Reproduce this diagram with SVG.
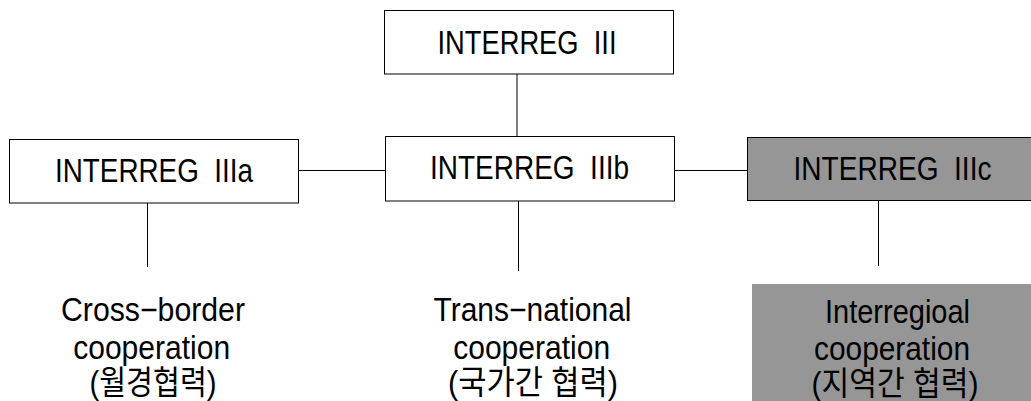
<svg xmlns="http://www.w3.org/2000/svg" width="1031" height="401" viewBox="0 0 1031 401">
<style>
.box{fill:#fff;stroke:#000;stroke-width:1}
.gray{fill:#969696;stroke:#000;stroke-width:1}
.grayf{fill:#969696;stroke:none}
.t{font-family:"Liberation Sans","Noto Sans CJK KR",sans-serif;font-size:33px;fill:#000;text-anchor:middle;white-space:pre}
.k{font-family:"Liberation Sans","Noto Sans CJK KR",sans-serif;font-size:33px;fill:#000;text-anchor:middle}
.c{stroke:#000;stroke-width:1;fill:none}
</style>
<rect width="1031" height="401" fill="#fff"/>
<g id="connectors">
<line class="c" x1="517" y1="74" x2="517" y2="136"/>
<line class="c" x1="299" y1="170.5" x2="385" y2="170.5"/>
<line class="c" x1="675" y1="170.5" x2="747" y2="170.5"/>
<line class="c" x1="147.5" y1="203" x2="147.5" y2="267"/>
<line class="c" x1="518.5" y1="201" x2="518.5" y2="271"/>
<line class="c" x1="878.5" y1="201" x2="878.5" y2="266"/>
</g>
<g id="n-iii">
<rect class="box" x="384.5" y="10.5" width="289" height="63.5"/>
<text class="t" x="527" y="54" textLength="179" lengthAdjust="spacingAndGlyphs">INTERREG  III</text>
</g>
<g id="n-iiia">
<rect class="box" x="9.5" y="139.5" width="289" height="63.5"/>
<text class="t" x="154" y="181.5" textLength="198" lengthAdjust="spacingAndGlyphs">INTERREG  IIIa</text>
</g>
<g id="n-iiib">
<rect class="box" x="385.5" y="136.5" width="289" height="64.5"/>
<text class="t" x="529.5" y="179.3" textLength="199" lengthAdjust="spacingAndGlyphs">INTERREG  IIIb</text>
</g>
<g id="n-iiic">
<rect class="gray" x="747.5" y="137.5" width="290" height="63"/>
<text class="t" x="892.5" y="180" textLength="198" lengthAdjust="spacingAndGlyphs">INTERREG  IIIc</text>
</g>
<g id="n-cross">
<text class="t" x="153" y="321" textLength="184" lengthAdjust="spacingAndGlyphs">Cross−border</text>
<text class="t" x="151.7" y="359" textLength="157" lengthAdjust="spacingAndGlyphs">cooperation</text>
<text class="k" x="153" y="394" textLength="127" lengthAdjust="spacingAndGlyphs">(월경협력)</text>
</g>
<g id="n-trans">
<text class="t" x="532.5" y="321" textLength="198" lengthAdjust="spacingAndGlyphs">Trans−national</text>
<text class="t" x="531.7" y="359" textLength="157" lengthAdjust="spacingAndGlyphs">cooperation</text>
<text class="k" x="533" y="394" textLength="170" lengthAdjust="spacingAndGlyphs">(국가간 협력)</text>
</g>
<g id="n-inter">
<rect class="grayf" x="752" y="284" width="290" height="130"/>
<text class="t" x="897.5" y="323" textLength="145" lengthAdjust="spacingAndGlyphs">Interregioal</text>
<text class="t" x="892" y="360" textLength="156" lengthAdjust="spacingAndGlyphs">cooperation</text>
<text class="k" x="895" y="395" textLength="167" lengthAdjust="spacingAndGlyphs">(지역간 협력)</text>
</g>
</svg>
